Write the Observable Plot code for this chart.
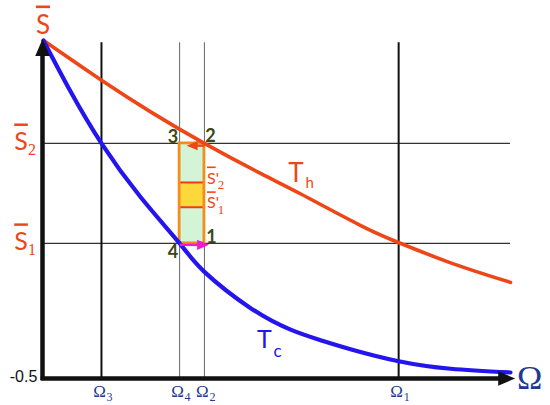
<!DOCTYPE html>
<html>
<head>
<meta charset="utf-8">
<script src="https://cdn.jsdelivr.net/npm/d3@7"></script>
<script src="https://cdn.jsdelivr.net/npm/@observablehq/plot@0.6"></script>
<style>
  html, body { margin: 0; padding: 0; background: #fff; }
  #chart svg { overflow: visible; }
</style>
</head>
<body>
<div id="chart"></div>
<script>
// ---- data ----
const thOmega = [0.02, 1.26, 2.31, 3.46, 4.66, 5.51, 6.79, 7.61, 8.72, 10.0];
const thS     = [4.00, 3.47, 3.05, 2.63, 2.23, 1.96, 1.54, 1.31, 1.04, 0.78];
const tcOmega = [0.02, 0.60, 1.26, 2.09, 2.93, 3.46, 4.44, 5.30, 5.94, 6.58, 7.61, 8.72, 10.0];
const tcS     = [4.00, 3.32, 2.63, 1.92, 1.30, 0.92, 0.44, 0.15, 0.01, -0.11, -0.27, -0.37, -0.42];

const omegaSubs   = ["3", "4", "2", "1"];
const omegaValues = [1.26, 2.93, 3.46, 7.61];
const omegaMajor  = [true, false, false, true];

const sSubs   = ["2", "1"];
const sValues = [2.63, 1.30];
const sPrimeSubs   = ["2", "1"];
const sPrimeValues = [2.11, 1.78];

const yMin = -0.5, yMax = 4.0, xMin = 0, xMax = 10;
const yTickLabel = "-0.5";

// ---- tables ----
const th = thOmega.map((x, i) => ({x, y: thS[i]}));
const tc = tcOmega.map((x, i) => ({x, y: tcS[i]}));
const omegas = omegaValues.map((x, i) => ({x, sub: omegaSubs[i], major: omegaMajor[i]}));
const levels = sValues.map((y, i) => ({y, sub: sSubs[i]}));
const primes = sPrimeValues.map((y, i) => ({y, sub: sPrimeSubs[i]}));

const cycle = [{x1: omegaValues[1], x2: omegaValues[2], y1: sValues[1], y2: sValues[0]}];
const band = [{x1: omegaValues[1], x2: omegaValues[2], y1: sPrimeValues[1], y2: sPrimeValues[0]}];

const head = {
  draw(ctx, size) {
    const r = Math.sqrt(size / Math.PI);
    ctx.moveTo(0, 0);
    ctx.lineTo(-0.85 * r, 2 * r);
    ctx.lineTo(0.85 * r, 2 * r);
    ctx.closePath();
  }
};

const RED = "#ee4616", BLUE = "#2414ee", NAVY = "#1d3a8f", OLIVE = "#3a4814", ORANGE = "#f48c1e";
const SANS = "Lato", SERIF = "Liberation Serif";

const chart = Plot.plot({
  width: 550,
  height: 405,
  marginLeft: 42,
  marginRight: 40,
  marginTop: 40,
  marginBottom: 27,
  x: {domain: [xMin, xMax], axis: null},
  y: {domain: [yMin, yMax], axis: null},
  style: {background: "#fff", overflow: "visible"},
  marks: [
    // horizontal level lines
    Plot.ruleY(levels, {y: "y", x1: xMin, x2: xMax, stroke: "#333", strokeWidth: 1.3}),
    // vertical Ω lines
    Plot.ruleX(omegas.filter(d => d.major), {x: "x", y1: yMin, y2: 3.97, stroke: "#111", strokeWidth: 2}),
    Plot.ruleX(omegas.filter(d => !d.major), {x: "x", y1: yMin, y2: 3.97, stroke: "#666", strokeWidth: 1}),
    // cycle rectangle
    Plot.rect(cycle, {x1: "x1", x2: "x2", y1: "y1", y2: "y2", fill: "#d3f5d6"}),
    Plot.rect(band, {x1: "x1", x2: "x2", y1: "y1", y2: "y2", fill: "#fcd83a"}),
    Plot.ruleY(primes, {y: "y", x1: omegaValues[1], x2: omegaValues[2], stroke: "#ee3a22", strokeWidth: 2}),
    Plot.rect(cycle, {x1: "x1", x2: "x2", y1: "y1", y2: "y2", fill: "none", stroke: ORANGE, strokeWidth: 2.8}),
    // curves
    Plot.line(th, {x: "x", y: "y", stroke: RED, strokeWidth: 3.6, curve: "natural"}),
    Plot.line(tc, {x: "x", y: "y", stroke: BLUE, strokeWidth: 4.2, curve: "natural"}),
    // axes
    Plot.link([{x1: 0, x2: 0, y1: yMin - 0.02, y2: 3.8}], {x1: "x1", x2: "x2", y1: "y1", y2: "y2", stroke: "#111", strokeWidth: 4.5}),
    Plot.link([{x1: -0.04, x2: 9.8, y1: yMin, y2: yMin}], {x1: "x1", x2: "x2", y1: "y1", y2: "y2", stroke: "#111", strokeWidth: 4.5}),
    Plot.dot([{x: 0, y: 4.02}], {x: "x", y: "y", symbol: head, r: 8.5, fill: "#111", stroke: "none"}),
    Plot.dot([{x: 10.1, y: yMin}], {x: "x", y: "y", symbol: head, r: 8.5, rotate: 90, fill: "#111", stroke: "none"}),
    // process arrows
    Plot.link([{x1: omegaValues[2], x2: 3.22, y1: 2.60, y2: 2.60}], {x1: "x1", x2: "x2", y1: "y1", y2: "y2", stroke: RED, strokeWidth: 2.4}),
    Plot.dot([{x: 3.08, y: 2.60}], {x: "x", y: "y", symbol: head, r: 5.5, rotate: -90, fill: RED, stroke: "none"}),
    Plot.link([{x1: omegaValues[1], x2: 3.35, y1: 1.28, y2: 1.28}], {x1: "x1", x2: "x2", y1: "y1", y2: "y2", stroke: "#ee1ccf", strokeWidth: 2.6}),
    Plot.dot([{x: 3.56, y: 1.28}], {x: "x", y: "y", symbol: head, r: 6, rotate: 90, fill: "#ee1ccf", stroke: "none"}),
    // S̄ labels (overline added below)
    Plot.text(["S"], {x: 0.01, y: 4.093, text: d => d, fill: RED, fontSize: 26, fontFamily: SANS, lineAnchor: "bottom", textAnchor: "middle"}),
    Plot.text(levels, {x: -0.459, y: d => d.y - 0.094, text: () => "S", fill: RED, fontSize: 25, fontFamily: SANS, lineAnchor: "bottom", textAnchor: "middle"}),
    Plot.text(levels, {x: -0.31, y: d => d.y - 0.161, text: "sub", fill: RED, fontSize: 16, fontFamily: SERIF, lineAnchor: "bottom", textAnchor: "start"}),
    // S̄' labels
    Plot.text(primes, {x: 3.515, y: d => d.y - 0.014, text: () => "S", fill: RED, fontSize: 16, fontFamily: SANS, lineAnchor: "bottom", textAnchor: "start"}),
    Plot.text(primes, {x: 3.70, y: d => d.y - 0.014, text: () => "'", fill: RED, fontSize: 16, fontFamily: SANS, lineAnchor: "bottom", textAnchor: "start"}),
    Plot.text(primes, {x: 3.745, y: d => d.y - 0.093, text: "sub", fill: RED, fontSize: 13, fontFamily: SERIF, lineAnchor: "bottom", textAnchor: "start"}),
    // -0.5 tick label
    Plot.text([yTickLabel], {x: -0.11, y: -0.553, text: d => d, fill: "#111", fontSize: 16, fontFamily: "Liberation Sans", lineAnchor: "bottom", textAnchor: "end"}),
    // Ω labels
    Plot.text(omegas, {x: "x", y: -0.74, text: () => "Ω", fill: NAVY, fontSize: 17, fontFamily: SERIF, lineAnchor: "bottom", textAnchor: "middle", dx: -2}),
    Plot.text(omegas, {x: "x", y: -0.806, text: "sub", fill: NAVY, fontSize: 12, fontFamily: SERIF, lineAnchor: "bottom", textAnchor: "start", dx: 5}),
    Plot.text(["Ω"], {x: 10.41, y: -0.646, text: d => d, fill: NAVY, fontSize: 34, fontFamily: SERIF, lineAnchor: "bottom", textAnchor: "middle"}),
    // curve labels
    Plot.text(["T"], {x: 5.417, y: 2.11, text: d => d, fill: RED, fontSize: 26, fontFamily: SANS, lineAnchor: "bottom", textAnchor: "middle"}),
    Plot.text(["h"], {x: 5.62, y: 2.04, text: d => d, fill: RED, fontSize: 15, fontFamily: SANS, lineAnchor: "bottom", textAnchor: "start"}),
    Plot.text(["T"], {x: 4.74, y: -0.10, text: d => d, fill: BLUE, fontSize: 25, fontFamily: SANS, lineAnchor: "bottom", textAnchor: "middle"}),
    Plot.text(["c"], {x: 4.936, y: -0.22, text: d => d, fill: BLUE, fontSize: 17, fontFamily: SANS, lineAnchor: "bottom", textAnchor: "start"}),
    // corner numbers
    Plot.text([
      {t: "3", x: 2.79, y: 2.64}, {t: "2", x: 3.59, y: 2.655},
      {t: "1", x: 3.61, y: 1.31}, {t: "4", x: 2.79, y: 1.098}
    ], {x: "x", y: "y", text: "t", fill: OLIVE, fontSize: 18, fontWeight: "bold", fontFamily: SANS, lineAnchor: "bottom", textAnchor: "middle"})
  ]
});
// overline the S glyphs (S̄)
d3.select(chart).selectAll("text").filter(function() { return this.textContent === "S"; })
  .style("text-decoration", "overline");
document.getElementById("chart").appendChild(chart);
</script>
</body>
</html>
